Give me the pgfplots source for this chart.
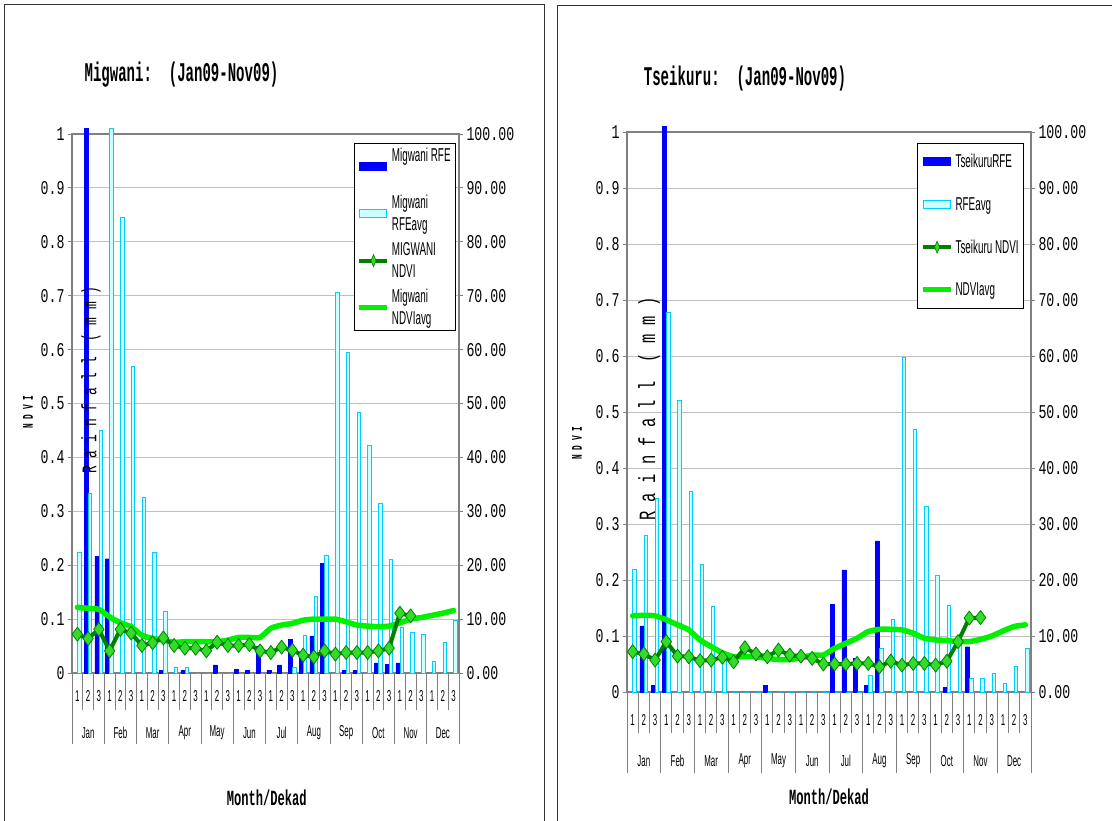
\documentclass[border=0pt]{standalone}
\usepackage{pgfplots}
\pgfplotsset{compat=1.18}
\usepackage{fontspec}
\setmainfont{Liberation Sans}
\newfontfamily\tickf[FakeStretch=0.68]{Liberation Mono}
\newfontfamily\titlef[FakeStretch=0.52]{Liberation Mono}
\newfontfamily\xlabf[FakeStretch=0.56]{Liberation Mono}
\newfontfamily\narrowf[FakeStretch=0.5]{Liberation Sans}
\newfontfamily\legf[FakeStretch=0.53]{Liberation Sans}
\newfontfamily\rotf{Liberation Mono}
\definecolor{rfeblue}{RGB}{0,0,255}
\definecolor{avgcyan}{RGB}{0,204,255}
\definecolor{avgfill}{RGB}{204,255,255}
\definecolor{ndvig}{RGB}{0,128,0}
\definecolor{markg}{RGB}{50,220,40}
\definecolor{avgg}{RGB}{0,240,0}
\definecolor{axgray}{RGB}{128,128,128}
\definecolor{gridgray}{RGB}{192,192,192}

\pgfplotsset{
  rfeax/.style={scale only axis, anchor=south west, xmin=-0.5, xmax=35.5, ymin=0, ymax=100,
    xtick=\empty, ytick={0,10,...,100},
    yticklabels={0.00,10.00,20.00,30.00,40.00,50.00,60.00,70.00,80.00,90.00,100.00},
    ytick pos=right, yticklabel pos=right, ymajorgrids,
    grid style={color=gridgray, line width=0.9pt},
    axis line style={color=axgray, line width=1.6pt},
    tick align=outside, major tick length=4pt, tick style={color=axgray, line width=1pt},
    yticklabel style={font={\tickf\fontsize{19.5}{20}\selectfont}},
    clip=false},
  ndviax/.style={scale only axis, anchor=south west, xmin=-0.5, xmax=35.5, ymin=0, ymax=1,
    axis line style={draw=none},
    ytick={0,0.1,...,1}, yticklabels={0,0.1,0.2,0.3,0.4,0.5,0.6,0.7,0.8,0.9,1},
    ytick pos=left, yticklabel pos=left,
    tick align=outside, major tick length=4pt, ytick style={color=axgray, line width=1pt},
    yticklabel style={font={\tickf\fontsize{19.5}{20}\selectfont}},
    xtick={0,...,35},
    xticklabels={1,2,3,1,2,3,1,2,3,1,2,3,1,2,3,1,2,3,1,2,3,1,2,3,1,2,3,1,2,3,1,2,3,1,2,3},
    xtick style={draw=none},
    extra x ticks={1,4,7,10,13,16,19,22,25,28,31,34},
    extra x tick labels={Jan,Feb,Mar,Apr,May,Jun,Jul,Aug,Sep,Oct,Nov,Dec},
    clip=false,
    legend cell align=left,
    legend style={font={\legf\fontsize{18.6}{22}\selectfont}, draw=black, line width=0.8pt,
      cells={align=left}, inner sep=3pt},
  },
  barblue/.style={ybar, bar width=4pt, bar shift=-2pt, fill=rfeblue, draw=rfeblue, line width=0.3pt},
  barcyan/.style={ybar, bar width=3.4pt, bar shift=2pt, fill=avgfill, draw=avgcyan, line width=0.9pt},
  avgline/.style={avgg, line width=5.5pt, line join=round, line cap=round, smooth, tension=0.35},
  ndviline/.style={ndvig, line width=4pt, line join=round, mark=diamond*, mark size=7pt,
    mark options={fill=markg, draw=ndvig, line width=0.8pt, solid}},
}

\begin{document}
\begin{tikzpicture}
\useasboundingbox (0pt,0pt) rectangle (1112pt,-820pt);
% frames
\draw[line width=1.5pt, black!80] (4.5pt,-830pt) -- (4.5pt,-4.5pt) -- (544.5pt,-4.5pt) -- (544.5pt,-830pt);
\draw[line width=1.5pt, black!80] (557.5pt,-830pt) -- (557.5pt,-5.5pt) -- (1115pt,-5.5pt);

% ================= LEFT PANEL: Migwani =================
\begin{axis}[rfeax, at={(72pt,-673pt)}, width=387pt, height=539pt]
\addplot[barblue] coordinates {(1,101)(2,21.6)(3,21.2)(8,0.5)(10,0.5)(13,1.5)(15,0.7)(16,0.5)(17,5.0)(18,0.5)(19,1.5)(20,6.2)(21,3.0)(22,6.9)(23,20.3)(25,0.5)(26,0.5)(28,1.9)(29,1.6)(30,1.9)};
\addplot[barcyan] coordinates {(0,22.3)(1,33.4)(2,45.0)(3,101)(4,84.5)(5,56.8)(6,32.6)(7,22.3)(8,11.5)(9,1.0)(10,1.0)(11,0)(12,0)(13,0)(14,0)(15,0)(16,0)(17,0)(18,0)(19,0)(20,1.0)(21,6.9)(22,14.2)(23,21.9)(24,70.6)(25,59.5)(26,48.4)(27,42.2)(28,31.5)(29,21.0)(30,8.4)(31,7.5)(32,7.2)(33,2.1)(34,5.7)(35,9.7)};
\end{axis}
\begin{axis}[ndviax, at={(72pt,-673pt)}, width=387pt, height=539pt,
  xticklabel style={font={\narrowf\fontsize{15.8}{16}\selectfont}, anchor=center, yshift=-19pt},
  extra x tick style={xticklabel style={yshift=-37pt}},
  legend style={at={(1,1)}, anchor=north east, xshift=-3pt, yshift=-9pt, row sep=6pt}]
\addlegendimage{legend image code/.code={\draw[fill=rfeblue, draw=rfeblue] (0pt,-4pt) rectangle (27pt,4pt);}}
\addlegendentry{Migwani RFE\\\strut}
\addlegendimage{legend image code/.code={\draw[fill=avgfill, draw=avgcyan, line width=1pt] (0pt,-4pt) rectangle (27pt,4pt);}}
\addlegendentry{Migwani\\RFEavg}
\addlegendimage{legend image code/.code={\draw[ndvig, line width=4pt] (0pt,0pt) -- (28pt,0pt);
   \draw[fill=markg, draw=ndvig, line width=0.6pt] (14pt,6pt) -- (16.5pt,0pt) -- (14pt,-6pt) -- (11.5pt,0pt) -- cycle;}}
\addlegendentry{MIGWANI\\NDVI}
\addlegendimage{legend image code/.code={\draw[avgg, line width=5pt] (0pt,0pt) -- (28pt,0pt);}}
\addlegendentry{Migwani\\NDVIavg}
\addplot[avgline, forget plot] coordinates {(0,0.122)(1,0.120)(2,0.118)(3,0.104)(4,0.093)(5,0.086)(6,0.070)(7,0.064)(8,0.061)(9,0.057)(10,0.058)(11,0.058)(12,0.058)(13,0.058)(14,0.061)(15,0.066)(16,0.066)(17,0.066)(18,0.083)(19,0.089)(20,0.092)(21,0.098)(22,0.100)(23,0.100)(24,0.100)(25,0.095)(26,0.089)(27,0.087)(28,0.086)(29,0.087)(30,0.093)(31,0.100)(32,0.103)(33,0.107)(34,0.111)(35,0.116)};
\addplot[ndviline, forget plot] coordinates {(0,0.072)(1,0.064)(2,0.081)(3,0.041)(4,0.081)(5,0.074)(6,0.051)(7,0.056)(8,0.065)(9,0.051)(10,0.046)(11,0.046)(12,0.041)(13,0.057)(14,0.051)(15,0.051)(16,0.053)(17,0.041)(18,0.038)(19,0.048)(20,0.042)(21,0.033)(22,0.030)(23,0.041)(24,0.035)(25,0.038)(26,0.038)(27,0.038)(28,0.041)(29,0.046)(30,0.111)(31,0.106)};
\pgfplotsinvokeforeach{-0.5,0.5,...,35.5}{\draw[axgray, line width=0.9pt] (axis cs:#1,0) -- ++(0pt,-37pt);}
\pgfplotsinvokeforeach{-0.5,2.5,...,35.5}{\draw[axgray, line width=0.9pt] (axis cs:#1,0) -- ++(0pt,-71pt);}
\end{axis}
\node[font={\titlef\bfseries\fontsize{27}{28}\selectfont}] at (181.5pt,-75pt) {Migwani:\ \ (Jan09-Nov09)};
\node[font={\xlabf\bfseries\fontsize{21.6}{22}\selectfont}] at (266.7pt,-798pt) {Month/Dekad};
\node[rotate=90] at (28pt,-412pt) {\scalebox{1}[1.9]{\rotf\bfseries\fontsize{7.8}{8}\selectfont N D V I}};
\node[rotate=90] at (91pt,-380pt) {\scalebox{1}[1.6]{\rotf\fontsize{13}{14}\selectfont R a i n f a l l\ \ ( m m )}};

% ================= RIGHT PANEL: Tseikuru =================
\begin{axis}[rfeax, at={(627pt,-692pt)}, width=404pt, height=560pt]
\addplot[barblue] coordinates {(1,11.8)(2,1.25)(3,101)(12,1.25)(18,15.7)(19,21.8)(20,6.0)(21,1.2)(22,27.0)(28,0.8)(30,8.1)};
\addplot[barcyan] coordinates {(0,21.8)(1,27.9)(2,34.6)(3,67.8)(4,52.0)(5,35.8)(6,22.7)(7,15.2)(8,7.0)(9,0)(10,0)(11,0)(12,0)(13,0)(14,0)(15,0)(16,0)(17,0)(18,0)(19,0)(20,0)(21,2.9)(22,7.8)(23,13.0)(24,59.8)(25,46.8)(26,33.2)(27,20.9)(28,15.5)(29,8.7)(30,2.4)(31,2.4)(32,3.3)(33,1.5)(34,4.6)(35,7.8)};
\end{axis}
\begin{axis}[ndviax, at={(627pt,-692pt)}, width=404pt, height=560pt,
  xticklabel style={font={\narrowf\fontsize{15.8}{16}\selectfont}, anchor=center, yshift=-24pt},
  extra x tick style={xticklabel style={yshift=-41pt}},
  legend style={at={(1,1)}, anchor=north east, xshift=-7pt, yshift=-11pt, row sep=24pt, inner ysep=9pt}]
\addlegendimage{legend image code/.code={\draw[fill=rfeblue, draw=rfeblue] (0pt,-4pt) rectangle (27pt,4pt);}}
\addlegendentry{TseikuruRFE}
\addlegendimage{legend image code/.code={\draw[fill=avgfill, draw=avgcyan, line width=1pt] (0pt,-4pt) rectangle (27pt,4pt);}}
\addlegendentry{RFEavg}
\addlegendimage{legend image code/.code={\draw[ndvig, line width=4pt] (0pt,0pt) -- (28pt,0pt);
   \draw[fill=markg, draw=ndvig, line width=0.6pt] (14pt,6pt) -- (16.5pt,0pt) -- (14pt,-6pt) -- (11.5pt,0pt) -- cycle;}}
\addlegendentry{Tseikuru NDVI}
\addlegendimage{legend image code/.code={\draw[avgg, line width=5pt] (0pt,0pt) -- (28pt,0pt);}}
\addlegendentry{NDVIavg}
\addplot[avgline, forget plot] coordinates {(0,0.136)(1,0.137)(2,0.136)(3,0.129)(4,0.120)(5,0.111)(6,0.093)(7,0.081)(8,0.070)(9,0.063)(10,0.063)(11,0.063)(12,0.060)(13,0.058)(14,0.058)(15,0.061)(16,0.066)(17,0.066)(18,0.078)(19,0.087)(20,0.096)(21,0.108)(22,0.112)(23,0.112)(24,0.111)(25,0.105)(26,0.096)(27,0.093)(28,0.092)(29,0.090)(30,0.090)(31,0.094)(32,0.100)(33,0.109)(34,0.117)(35,0.120)};
\addplot[ndviline, forget plot] coordinates {(0,0.072)(1,0.068)(2,0.057)(3,0.090)(4,0.064)(5,0.063)(6,0.056)(7,0.057)(8,0.062)(9,0.054)(10,0.079)(11,0.068)(12,0.063)(13,0.075)(14,0.066)(15,0.064)(16,0.060)(17,0.050)(18,0.050)(19,0.050)(20,0.051)(21,0.051)(22,0.045)(23,0.055)(24,0.048)(25,0.051)(26,0.051)(27,0.048)(28,0.055)(29,0.090)(30,0.132)(31,0.133)};
\pgfplotsinvokeforeach{-0.5,0.5,...,35.5}{\draw[axgray, line width=0.9pt] (axis cs:#1,0) -- ++(0pt,-41pt);}
\pgfplotsinvokeforeach{-0.5,2.5,...,35.5}{\draw[axgray, line width=0.9pt] (axis cs:#1,0) -- ++(0pt,-81pt);}
\end{axis}
\node[font={\titlef\bfseries\fontsize{27}{28}\selectfont}] at (745pt,-79pt) {Tseikuru:\ \ (Jan09-Nov09)};
\node[font={\xlabf\bfseries\fontsize{21.6}{22}\selectfont}] at (829pt,-797pt) {Month/Dekad};
\node[rotate=90] at (577pt,-443pt) {\scalebox{1}[1.9]{\rotf\bfseries\fontsize{7.8}{8}\selectfont N D V I}};
\node[rotate=90] at (649pt,-409pt) {\scalebox{1}[1.5]{\rotf\fontsize{15.5}{16}\selectfont R a i n f a l l\ \ ( m m )}};
\end{tikzpicture}
\end{document}
